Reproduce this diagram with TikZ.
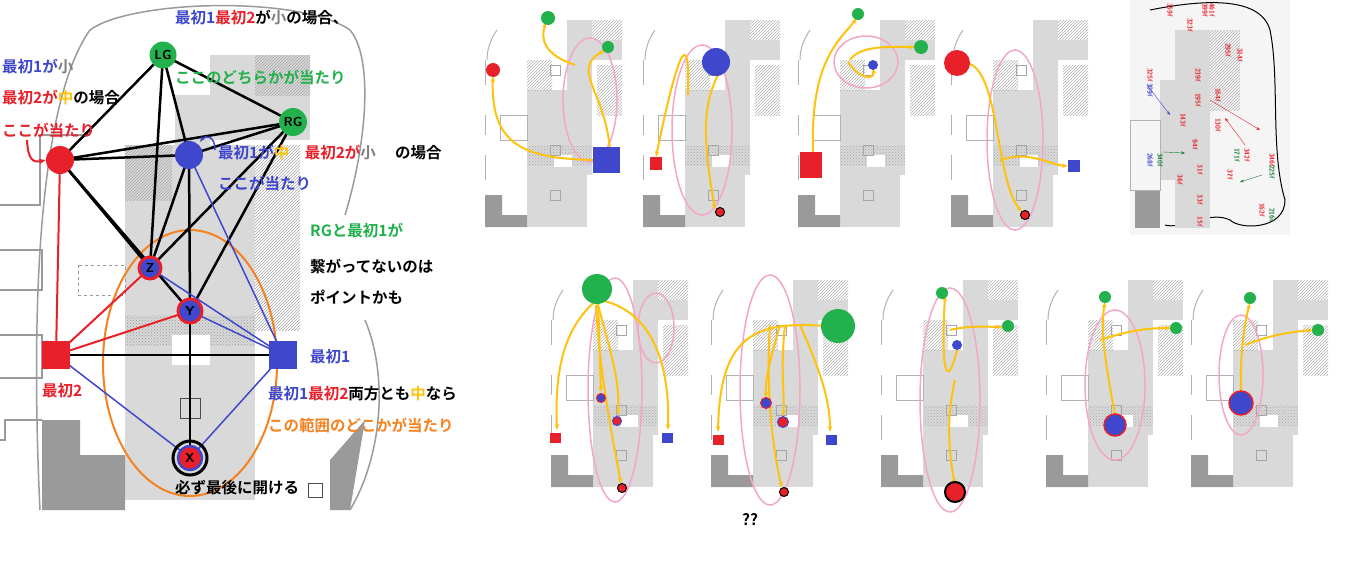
\documentclass[tikz,border=0pt]{standalone}
\usepackage{fontspec}
\newfontfamily\jp{Noto Sans CJK JP}[BoldFont={Noto Sans CJK JP Bold}]
\usetikzlibrary{arrows.meta,patterns}
\definecolor{cr}{HTML}{E8202A}
\definecolor{cb}{HTML}{3F48CC}
\definecolor{cg}{HTML}{22B14C}
\definecolor{co}{HTML}{F58220}
\definecolor{cy}{HTML}{FFC20E}
\definecolor{cpk}{HTML}{F4A6C8}
\definecolor{lg}{HTML}{D9D9D9}
\definecolor{dg}{HTML}{9A9A9A}
\begin{document}
\begin{tikzpicture}[x=1pt,y=-1pt,
  txt/.style={font=\jp\bfseries\fontsize{15.5}{17}\selectfont,anchor=west,inner sep=0},
  blk/.style={line width=2.5pt,black},
  rl/.style={line width=2pt,cr},
  bl/.style={line width=1.5pt,cb},
  yar/.style={line width=2pt,cy,-{Stealth[length=6pt]}},
  pk/.style={line width=1.5pt,cpk},
  lbl/.style={font=\sffamily\bfseries\fontsize{13}{13}\selectfont,inner sep=0},
  num/.style={font=\sffamily\bfseries\fontsize{7}{7}\selectfont,cr,rotate=-90,inner sep=0}]
\useasboundingbox (0,0) rectangle (1357,565);
\fill[white] (0,0) rectangle (1357,565);
% ---- left background map
\draw[dg,line width=1.5pt] (40,510) .. controls (30,300) and (40,100) .. (90,30) .. controls (130,0) and (300,-5) .. (350,30) .. controls (375,60) and (365,150) .. (345,215);
\draw[dg,line width=1.5pt] (365,320) .. controls (390,380) and (380,460) .. (350,510);
\fill[lg] (125,145) rectangle (255,500);
\fill[lg] (210,55) rectangle (310,140);
\fill[lg] (175,95) rectangle (210,145);
\fill[pattern=north east lines,pattern color=gray!70] (255,55) rectangle (310,95);
\fill[pattern=north east lines,pattern color=gray!70] (125,145) rectangle (172,200);
\fill[pattern=north east lines,pattern color=gray!70] (255,145) rectangle (300,330);
\fill[pattern=crosshatch dots,pattern color=gray!80] (125,315) rectangle (255,345);
\fill[white] (172,335) rectangle (210,365);
\draw[dg,line width=1.5pt] (0,205) -- (40,205) -- (40,135) -- (90,135);
\draw[dg,line width=1.5pt] (0,250) -- (42,250) -- (42,290) -- (0,290);
\draw[dg,line width=1.5pt] (0,335) -- (42,335) -- (42,378) -- (0,378);
\fill[dg] (42,420) -- (80,420) -- (80,455) -- (125,455) -- (125,510) -- (42,510) -- cycle;
\fill[dg] (330,460) -- (365,420) -- (350,510) -- (330,510) -- cycle;
\draw[dg,line width=1.5pt] (0,440) -- (5,440) -- (5,420) -- (42,420);
\draw[gray!80,dashed] (78,265) rectangle (125,295);
\draw[black!70,line width=1pt] (180,398) rectangle (200,418);
\draw[black!70,line width=1pt] (308,483) rectangle (322,497);
% ---- graph nodes
\coordinate (LG) at (163,55); \coordinate (RG) at (293,122);
\coordinate (R) at (60,160); \coordinate (B) at (189,155);
\coordinate (Z) at (150,268); \coordinate (Y) at (190,311);
\coordinate (S2) at (56,355); \coordinate (S1) at (283,355);
\coordinate (X) at (190,458);
\draw[co,line width=2pt] (190,363) ellipse [x radius=87,y radius=133];
\foreach \a/\b in {LG/R,LG/RG,LG/B,LG/Z,R/RG,R/B,R/Z,R/Y,RG/B,RG/Z,RG/Y,B/Z,B/Y,Y/X,S2/S1}
  \draw[blk] (\a) -- (\b);
\draw[rl] (R) -- (S2); \draw[rl] (S2) -- (Z); \draw[rl] (S2) -- (Y);
\foreach \a/\b in {B/S1,S1/Z,S1/Y,S1/X,S2/X} \draw[bl] (\a) -- (\b);
\node[circle,fill=cg,minimum size=27pt,inner sep=0,lbl] (nLG) at (LG) {LG};
\node[circle,fill=cg,minimum size=28pt,inner sep=0,lbl] (nRG) at (RG) {RG};
\node[circle,fill=cr,minimum size=28pt] (nR) at (R) {};
\node[circle,fill=cb,minimum size=28pt] (nB) at (B) {};
\node[circle,fill=cb,draw=cr,line width=3pt,minimum size=22pt,inner sep=0,lbl] (nZ) at (Z) {Z};
\node[circle,fill=cb,draw=cr,line width=3pt,minimum size=24pt,inner sep=0,lbl] (nY) at (Y) {Y};
\node[fill=cr,minimum size=28pt] (nS2) at (S2) {};
\node[fill=cb,minimum size=28pt] (nS1) at (S1) {};
\node[circle,draw=black,line width=3pt,minimum size=34pt,inner sep=0] (nXo) at (X) {};
\node[circle,fill=cr,draw=cb,line width=2.5pt,minimum size=24pt,inner sep=0,lbl] (nX) at (X) {X};
\draw[cr,line width=2pt,-{Stealth[length=7pt]}] (27,140) .. controls (28,160) and (33,163) .. (nR.west);
\draw[cb,line width=1.5pt,-{Stealth[length=6pt]}] (215,150) .. controls (215,135) and (205,135) .. (200,142);
% ---- texts
\node[txt] (t1) at (175,18) {\textcolor{cb}{最初1}\textcolor{cr}{最初2}が\textcolor{gray}{小}の場合、};
\node[txt,cg] (t2) at (175,77) {ここのどちらかが当たり};
\node[txt] (t3) at (2,66) {\textcolor{cb}{最初1が}\textcolor{gray}{小}};
\node[txt] (t4) at (2,98) {\textcolor{cr}{最初2が}\textcolor{cy}{中}の場合};
\node[txt,cr] (t5) at (2,130) {ここが当たり};
\node[txt] (t6) at (218,153) {\textcolor{cb}{最初1が}\textcolor{cy}{中}\quad\textcolor{cr}{最初2が}\textcolor{gray}{小}\quad\ の場合};
\node[txt,cb] (t7) at (218,183) {ここが当たり};
\node[txt,cg] (t8) at (310,230) {RGと最初1が};
\node[txt] (t9) at (310,266) {繋がってないのは};
\node[txt] (t10) at (310,297) {ポイントかも};
\node[txt,cb] (t11) at (310,357) {最初1};
\node[txt,cr] (t12) at (42,391) {最初2};
\node[txt] (t13) at (268,394) {\textcolor{cb}{最初1}\textcolor{cr}{最初2}両方とも\textcolor{cy}{中}なら};
\node[txt,co] (t14) at (268,425) {この範囲のどこかが当たり};
\node[txt] (t15) at (175,488) {必ず最後に開ける};
\node[txt] (t16) at (742,520) {??};
% ---- thumbnail backgrounds
\foreach \ox/\oy in {482/5,640/5,795/5,948/5,548/265,708/265,878/265,1043/265,1188/265}{
 \begin{scope}[shift={(\ox,\oy)}]
  \fill[lg] (45,170) rectangle (105,222);
  \fill[lg] (45,85) rectangle (110,170);
  \fill[lg] (85,15) rectangle (110,85);
  \fill[pattern=north east lines,pattern color=gray!60] (110,15) rectangle (140,35);
  \fill[lg] (110,35) rectangle (140,55);
  \fill[pattern=north east lines,pattern color=gray!60] (45,55) rectangle (70,85);
  \fill[pattern=north east lines,pattern color=gray!60] (115,60) rectangle (140,110);
  \fill[pattern=crosshatch dots,pattern color=gray!70] (45,140) rectangle (110,160);
  \fill[white] (72,150) rectangle (90,162);
  \fill[dg] (3,190) -- (20,190) -- (20,210) -- (45,210) -- (45,222) -- (3,222) -- cycle;
  \draw[gray!60] (18,110) rectangle (45,135);
  \draw[gray!70] (68,185) rectangle (78,195);
  \draw[gray!70] (68,60) rectangle (78,70);
  \draw[gray!70] (68,140) rectangle (78,150);
  \draw[gray!60,line width=1pt] (3,55) -- (3,80);
  \draw[gray!60,line width=1pt] (3,110) -- (3,130);
  \draw[gray!60,line width=1pt] (3,150) -- (3,175);
  \draw[gray!60,line width=1pt] (15,25) .. controls (8,35) and (5,45) .. (5,55);
 \end{scope}}
% ---- P1
\draw[pk] (590,100) ellipse [x radius=27,y radius=62];
\coordinate (p1bs) at (606,160);
\draw[yar] (p1bs) .. controls (530,160) and (490,150) .. (493,76);
\draw[yar] (610,150) .. controls (605,90) and (570,70) .. (605,50);
\draw[yar] (575,65) .. controls (545,55) and (540,40) .. (546,22);
\fill[cb] (593,147) rectangle (620,173);
\fill[cr] (493,70) circle (7); \fill[cg] (548,18) circle (7); \fill[cg] (608,47) circle (6);
% ---- P2
\draw[pk] (702,130) ellipse [x radius=30,y radius=85];
\draw[yar] (718,75) .. controls (700,110) and (705,150) .. (715,210);
\draw[yar] (688,95) .. controls (690,30) and (680,40) .. (656,157);
\fill[cb] (716,62) circle (14);
\fill[cr] (650,157) rectangle (662,170);
\node[circle,fill=cr,draw=black,line width=1pt,minimum size=9pt,inner sep=0] (p2x) at (720,212) {};
% ---- P3
\draw[pk] (866,62) ellipse [x radius=32,y radius=26];
\draw[yar] (813,152) .. controls (810,60) and (840,40) .. (857,18);
\draw[yar] (850,60) .. controls (860,45) and (890,47) .. (915,47);
\draw[yar] (848,62) .. controls (860,80) and (875,80) .. (873,68);
\fill[cr] (800,152) rectangle (822,178);
\fill[cg] (858,14) circle (6); \fill[cg] (921,47) circle (7); \fill[cb] (873,65) circle (5);
% ---- P4
\draw[pk] (1015,140) ellipse [x radius=28,y radius=90];
\draw[yar] (967,63) .. controls (1000,70) and (995,180) .. (1022,212);
\draw[yar] (1000,160) .. controls (1030,150) and (1050,165) .. (1068,166);
\fill[cr] (957,63) circle (13);
\fill[cb] (1068,160) rectangle (1080,172);
\node[circle,fill=cr,draw=black,line width=1pt,minimum size=9pt,inner sep=0] (p4x) at (1025,215) {};
% ---- P5
\draw[pk] (615,390) ellipse [x radius=27,y radius=112];
\draw[pk] (656,328) ellipse [x radius=18,y radius=35];
\draw[yar] (597,300) .. controls (560,330) and (555,380) .. (557,430);
\draw[yar] (600,300) .. controls (650,310) and (670,360) .. (668,430);
\draw[yar] (598,300) -- (601,392);
\draw[yar] (598,305) .. controls (610,350) and (620,380) .. (618,415);
\draw[yar] (596,305) .. controls (600,380) and (615,450) .. (621,484);
\fill[cg] (597,289) circle (15);
\fill[cr] (550,433) rectangle (561,443); \fill[cb] (662,433) rectangle (673,443);
\node[circle,fill=cb,draw=cr,line width=1pt,minimum size=9pt,inner sep=0] at (601,398) {};
\node[circle,fill=cr,draw=cb,line width=1pt,minimum size=9pt,inner sep=0] at (617,421) {};
\node[circle,fill=cr,draw=black,line width=1pt,minimum size=9pt,inner sep=0] at (622,488) {};
% ---- P6
\draw[pk] (770,390) ellipse [x radius=30,y radius=115];
\draw[yar] (825,326) .. controls (750,320) and (720,340) .. (718,432);
\draw[yar] (780,325) .. controls (770,360) and (765,380) .. (766,398);
\draw[yar] (785,325) .. controls (780,370) and (785,400) .. (783,416);
\draw[yar] (770,325) .. controls (765,400) and (775,460) .. (782,488);
\draw[yar] (800,325) .. controls (820,370) and (830,400) .. (830,432);
\fill[cg] (838,326) circle (17);
\fill[cr] (713,435) rectangle (724,445); \fill[cb] (826,435) rectangle (837,445);
\node[circle,fill=cb,draw=cr,line width=1pt,minimum size=11pt,inner sep=0] at (766,403) {};
\node[circle,fill=cr,draw=cb,line width=1pt,minimum size=11pt,inner sep=0] at (783,422) {};
\node[circle,fill=cr,draw=black,line width=1pt,minimum size=9pt,inner sep=0] at (784,492) {};
% ---- P7
\draw[pk] (950,400) ellipse [x radius=30,y radius=112];
\draw[yar] (957,350) .. controls (950,380) and (940,390) .. (945,295);
\draw[yar] (950,330) .. controls (970,325) and (990,327) .. (1003,327);
\draw[yar] (955,380) .. controls (945,420) and (950,460) .. (955,485);
\fill[cg] (942,293) circle (6); \fill[cg] (1008,326) circle (6); \fill[cb] (957,345) circle (5);
\node[circle,fill=cr,draw=black,line width=2pt,minimum size=20pt,inner sep=0] at (955,492) {};
% ---- P8
\draw[pk] (1115,385) ellipse [x radius=30,y radius=75];
\draw[yar] (1115,415) .. controls (1105,360) and (1100,330) .. (1105,302);
\draw[yar] (1100,340) .. controls (1130,330) and (1150,328) .. (1171,328);
\node[circle,fill=cb,draw=cr,line width=1.5pt,minimum size=22pt,inner sep=0] at (1115,425) {};
\fill[cg] (1105,297) circle (6); \fill[cg] (1176,328) circle (6);
% ---- P9
\draw[pk] (1241,375) ellipse [x radius=22,y radius=60];
\draw[yar] (1241,390) .. controls (1240,350) and (1245,320) .. (1250,303);
\draw[yar] (1245,345) .. controls (1270,335) and (1290,332) .. (1313,330);
\node[circle,fill=cb,draw=cr,line width=1.5pt,minimum size=24pt,inner sep=0] at (1241,403) {};
\fill[cg] (1250,298) circle (6); \fill[cg] (1318,330) circle (6);
% ---- reference map
\fill[gray!8] (1130,0) rectangle (1290,235);
\draw[black,line width=1pt] (1150,10) .. controls (1200,0) and (1260,-5) .. (1270,30) .. controls (1280,80) and (1270,150) .. (1285,200) .. controls (1285,230) and (1240,230) .. (1230,220) .. controls (1210,210) and (1180,230) .. (1165,225);
\fill[lg] (1175,30) rectangle (1210,228);
\fill[lg] (1160,80) rectangle (1210,180);
\fill[pattern=north east lines,pattern color=gray!60] (1210,30) rectangle (1240,110);
\fill[dg] (1135,190) rectangle (1160,228);
\draw[gray!60] (1130,120) rectangle (1160,190);
\foreach \x/\y/\t in {1170/10/359f,1205/10/399f,1212/10/461f,1190/25/323f,1240/55/314f,1228/50/295f,1198/75/239f,1198/100/195f,1218/95/164f,1218/125/130f,1183/120/143f,1195/145/94f,1200/170/31f,1180/180/36f,1230/175/37f,1200/200/33f,1200/222/15f,1247/155/342f,1272/160/346f,1262/210/162f,1150/75/325f}
  \node[num] at (\x,\y) {\t};
\foreach \x/\y/\t in {1150/90/309f,1150/160/268f}
  \node[num,cb] at (\x,\y) {\t};
\foreach \x/\y/\t in {1160/160/340f,1237/155/171f,1272/172/225f,1272/215/216f}
  \node[num,cg!70!black] at (\x,\y) {\t};
\draw[cb,-{Stealth[length=4pt]}] (1147,85) -- (1170,115);
\draw[cr,-{Stealth[length=4pt]}] (1210,100) -- (1260,130);
\draw[cr,-{Stealth[length=4pt]}] (1245,145) -- (1225,118);
\draw[cg!70!black,-{Stealth[length=4pt]}] (1163,152) -- (1185,153);
\draw[cg!70!black,-{Stealth[length=4pt]}] (1262,175) -- (1240,182);
\end{tikzpicture}
\end{document}
